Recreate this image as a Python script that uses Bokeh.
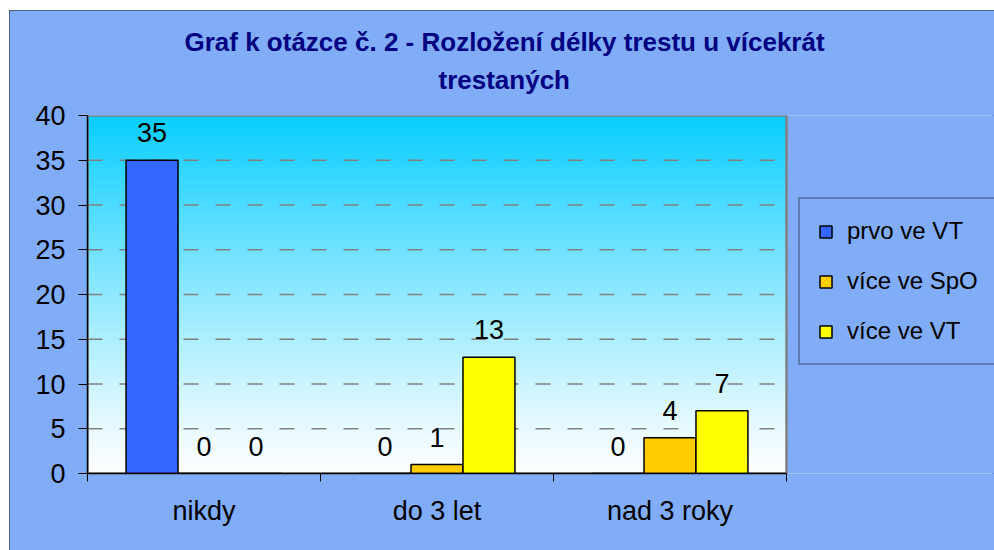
import numpy as np
from bokeh.plotting import figure
from bokeh.models import (ColumnDataSource, Range1d, LinearAxis, FixedTicker, Title, Legend,
                          LegendItem, Grid)
from bokeh.transform import dodge
from bokeh.core.properties import value
from bokeh.embed import file_html
from bokeh.resources import INLINE

# ---- data ----
categories = ["nikdy", "do 3 let", "nad 3 roky"]
series_names = ["prvo ve VT", "více ve SpO", "více ve VT"]
prvo_ve_vt = [35, 0, 0]
vice_ve_spo = [0, 1, 4]
vice_ve_vt = [0, 13, 7]
y_ticks = [0, 5, 10, 15, 20, 25, 30, 35, 40]
title_lines = ["Graf k otázce č. 2 - Rozložení délky trestu u vícekrát", "trestaných"]

colors = ["#3366FF", "#FFCC00", "#FFFF00"]
FONT = "Liberation Sans"
BG = "#80ACF8"
FS = "27px"

n = len(categories)
y_min, y_max = y_ticks[0], y_ticks[-1]
centers = [i + 0.5 for i in range(n)]
source = ColumnDataSource(dict(
    x=centers,
    s0=prvo_ve_vt, s1=vice_ve_spo, s2=vice_ve_vt,
    t0=[str(v) for v in prvo_ve_vt],
    t1=[str(v) for v in vice_ve_spo],
    t2=[str(v) for v in vice_ve_vt],
))

# the frame extends to the right edge so that the legend sits inside it;
# the plot area proper covers x in [0, n]
X_END = n * 907 / 699
p = figure(width=985, height=540, x_range=Range1d(0, X_END),
           y_range=Range1d(y_min, y_max), output_backend="svg", toolbar_location=None,
           x_axis_location=None, y_axis_location=None,
           min_border_left=78, min_border_right=0, min_border_top=105, min_border_bottom=77)
p.border_fill_color = BG
p.background_fill_color = BG
p.outline_line_color = None
p.styles = {"margin-left": "9px", "margin-top": "10px",
            "outline": "2px solid #3a4a6a", "outline-offset": "-2px"}

# remove default grids
p.center = [r for r in p.center if not isinstance(r, Grid)]

# gradient background of the plot area
N = 360
t = np.linspace(0, 1, N) ** 1.15
top = np.array([8, 206, 255])
white = np.array([255, 255, 255])
rgb = (white[None, :] + (top - white)[None, :] * t[:, None]).astype(np.uint32)
img = np.empty((N, 1), dtype=np.uint32)
view = img.view(dtype=np.uint8).reshape((N, 1, 4))
view[:, 0, 0] = rgb[:, 0]
view[:, 0, 1] = rgb[:, 1]
view[:, 0, 2] = rgb[:, 2]
view[:, 0, 3] = 255
p.image_rgba(image=[img], x=0, y=y_min, dw=n, dh=y_max - y_min, level="image")

# dashed horizontal gridlines across the plot area
grid_ticks = [v for v in y_ticks if y_min < v < y_max]
p.segment(x0=[0] * len(grid_ticks), x1=[n] * len(grid_ticks), y0=grid_ticks, y1=grid_ticks,
          line_color="#808080", line_dash="15 17", line_width=1.5, level="underlay")

# plot-area border
p.quad(left=[0], right=[n], bottom=[y_min], top=[y_max], fill_color=None,
       line_color="#808080", line_width=2.5)

# axes
yax = LinearAxis(ticker=FixedTicker(ticks=y_ticks))
yax.major_tick_out = 9
yax.major_tick_in = 0
yax.minor_tick_line_color = None
yax.axis_line_color = "black"
yax.axis_line_width = 1.5
yax.major_tick_line_color = "black"
yax.major_label_text_font = FONT
yax.major_label_text_font_size = FS
yax.major_label_text_color = "black"
yax.major_label_standoff = 13
p.add_layout(yax, "left")

tick_ax = LinearAxis(ticker=FixedTicker(ticks=list(range(n + 1))), bounds=(0, n))
tick_ax.major_tick_out = 8
tick_ax.major_tick_in = 0
tick_ax.minor_tick_line_color = None
tick_ax.axis_line_color = "black"
tick_ax.axis_line_width = 1.5
tick_ax.major_label_text_font_size = "0px"
tick_ax.major_label_standoff = 0
tick_ax.major_label_overrides = {i: "" for i in range(n + 1)}
p.add_layout(tick_ax, "below")

cax = LinearAxis(ticker=FixedTicker(ticks=centers), bounds=(0, n))
cax.major_label_overrides = {c: lab for c, lab in zip(centers, categories)}
cax.axis_line_color = None
cax.major_tick_line_color = None
cax.minor_tick_line_color = None
cax.major_tick_out = 0
cax.major_label_text_font = FONT
cax.major_label_text_font_size = FS
cax.major_label_text_color = "black"
cax.major_label_standoff = 14
p.add_layout(cax, "below")

# bars
w = 0.223
offsets = [-w, 0, w]
items = []
for i, (name, col) in enumerate(zip(series_names, ["s0", "s1", "s2"])):
    r = p.vbar(x=dodge("x", offsets[i]), top=col, width=w, source=source,
               fill_color=colors[i], line_color="black", line_width=1.5)
    items.append(LegendItem(label=name, renderers=[r]))
    p.text(x=dodge("x", offsets[i]), y=col, text="t%d" % i, source=source,
           text_align="center", text_baseline="bottom", y_offset=-18,
           text_font=value(FONT), text_font_size=FS, text_color="black")

legend = Legend(items=items, location=(711, 108))
legend.background_fill_color = BG
legend.background_fill_alpha = 1
legend.border_line_color = "#3a4a6a"
legend.border_line_width = 2
legend.label_text_font = FONT
legend.label_text_font_size = "24px"
legend.label_text_color = "black"
legend.glyph_width = 15
legend.glyph_height = 15
legend.label_height = 24
legend.spacing = 22
legend.padding = 18
legend.margin = 0
legend.label_standoff = 14
p.add_layout(legend, "center")

# title (two lines, centred over the whole chart); a blank spacer keeps it off the plot area
p.add_layout(Title(text=" ", text_font_size="2px", standoff=14), "above")
offsets_title = [97, 351]
for line, off in reversed(list(zip(title_lines, offsets_title))):
    p.add_layout(Title(text=line, align="left", offset=off, text_font=FONT, text_font_size="26px",
                       text_font_style="bold", text_color="#000080", standoff=6), "above")

open("out.html", "w").write(file_html(p, INLINE))
